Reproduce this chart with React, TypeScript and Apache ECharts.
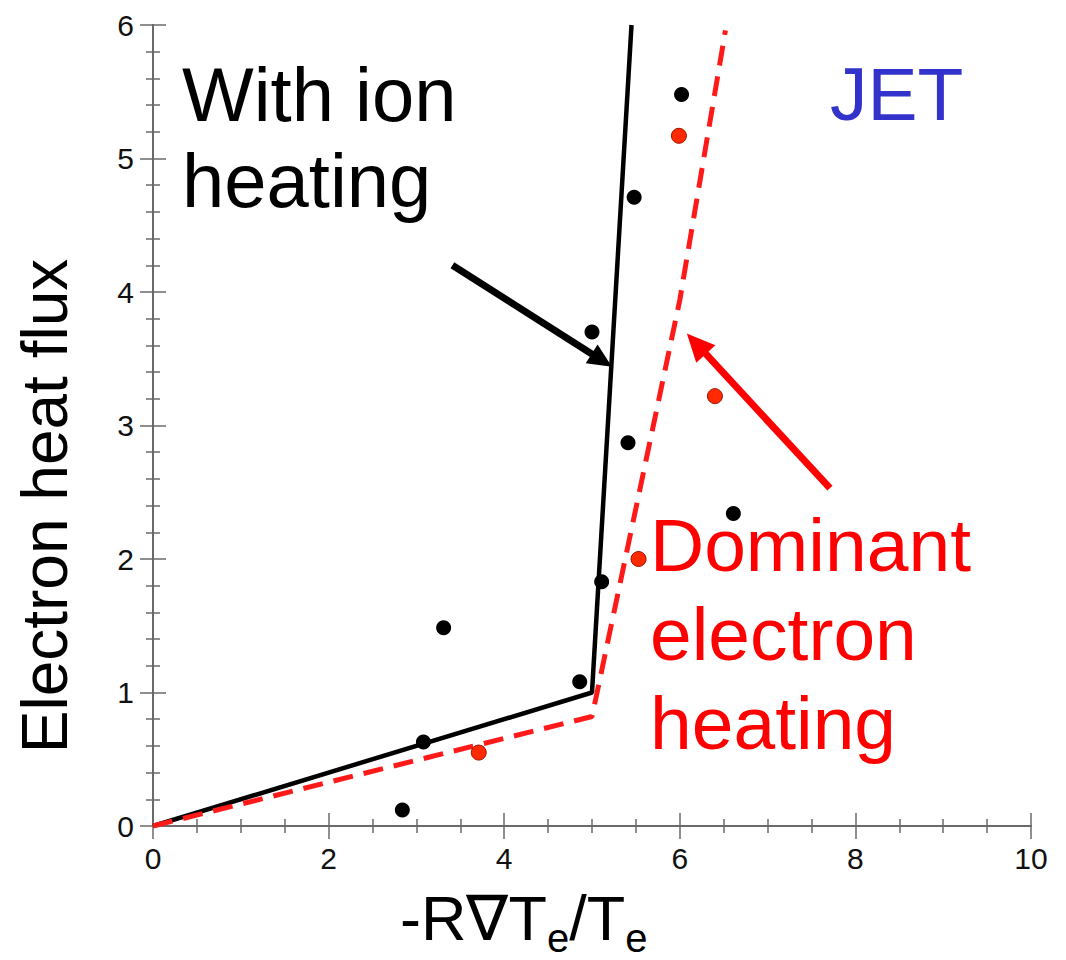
import React, { useEffect, useRef } from 'react';
import * as echarts from 'echarts';

// Measured points (JET)
const ionHeatX = [2.84, 3.08, 3.31, 4.86, 5.0, 5.11, 5.41, 5.48, 6.02, 6.61];
const ionHeatY = [0.12, 0.63, 1.485, 1.08, 3.7, 1.83, 2.87, 4.71, 5.48, 2.34];
const elecHeatX = [3.71, 5.53, 5.99, 6.4];
const elecHeatY = [0.55, 2.0, 5.17, 3.22];

// Fitted model curves
const ionFitX = [0, 5.0, 5.45];
const ionFitY = [0, 1.0, 6.0];
const elecFitX = [0, 5.0, 6.0, 6.52];
const elecFitY = [0, 0.82, 3.94, 5.96];

// Annotation arrows [tail, tip] in data units
const ionArrow = [[3.41, 4.2], [5.227, 3.44]];
const elecArrow = [[7.71, 2.53], [6.08, 3.69]];

const xTickLabels = ['0', '2', '4', '6', '8', '10'];
const yTickLabels = ['0', '1', '2', '3', '4', '5', '6'];

const FONT = '"Liberation Sans", Arial, Helvetica, sans-serif';

const zip = (xs: number[], ys: number[]) => xs.map((x, i) => [x, ys[i]]);

export default function App() {
  const ref = useRef<HTMLDivElement>(null);
  useEffect(() => {
    const chart = echarts.init(ref.current!, null, { renderer: 'svg' });
    const axisLine = { show: true, lineStyle: { color: '#6a6a6a', width: 2 } };
    const tick = { show: true, inside: true, length: 13, lineStyle: { color: '#6a6a6a', width: 1.5 } };
    const minor = (n: number) => ({ show: true, splitNumber: n, length: 7, lineStyle: { color: '#6a6a6a', width: 1.5 } });
    const xBase = { type: 'value', min: 0, max: 10, interval: 2, axisLine, axisTick: tick, minorTick: minor(4), splitLine: { show: false }, minorSplitLine: { show: false } };
    const yBase = { type: 'value', min: 0, max: 6, interval: 1, axisLine, axisTick: tick, minorTick: minor(5), splitLine: { show: false }, minorSplitLine: { show: false } };
    chart.setOption({
      animation: false,
      backgroundColor: '#ffffff',
      grid: { left: 153, right: 35, top: 25, bottom: 134, containLabel: false },
      xAxis: [
        {
          ...xBase,
          position: 'bottom',
          axisLabel: {
            margin: 17, fontSize: 30, color: '#111', fontFamily: FONT,
            formatter: (v: number) => xTickLabels[Math.round(v / 2)] ?? '',
          },
        },
        { ...xBase, position: 'top', axisLabel: { show: false } },
      ],
      yAxis: [
        {
          ...yBase,
          position: 'left',
          axisLabel: {
            margin: 19, fontSize: 30, color: '#111', fontFamily: FONT,
            formatter: (v: number) => yTickLabels[Math.round(v)] ?? '',
          },
        },
        { ...yBase, position: 'right', axisLabel: { show: false } },
      ],
      series: [
        {
          type: 'line', name: 'ion fit', data: zip(ionFitX, ionFitY), showSymbol: false, symbol: 'none',
          lineStyle: { color: '#000', width: 4.5 }, z: 2, clip: true,
        },
        {
          type: 'line', name: 'electron fit', data: zip(elecFitX, elecFitY), showSymbol: false, symbol: 'none',
          lineStyle: { color: '#ff1a1a', width: 5, type: [20, 11] }, z: 2, clip: true,
        },
        {
          type: 'scatter', name: 'ion heating', data: zip(ionHeatX, ionHeatY), symbol: 'circle', symbolSize: 15,
          itemStyle: { color: '#000', opacity: 1 }, z: 3,
        },
        {
          type: 'scatter', name: 'electron heating', data: zip(elecHeatX, elecHeatY), symbol: 'circle', symbolSize: 15,
          itemStyle: { color: '#ff2a00', borderColor: '#a01000', borderWidth: 1, opacity: 1 }, z: 3,
        },
      ],
    });

    const arrow = (pts: number[][], color: string, width: number, headLen: number, headW: number) => {
      const p0 = chart.convertToPixel({ gridIndex: 0 }, pts[0]) as number[];
      const p1 = chart.convertToPixel({ gridIndex: 0 }, pts[1]) as number[];
      const dx = p1[0] - p0[0];
      const dy = p1[1] - p0[1];
      const L = Math.hypot(dx, dy);
      const ux = dx / L;
      const uy = dy / L;
      const bx = p1[0] - ux * headLen;
      const by = p1[1] - uy * headLen;
      const nx = -uy;
      const ny = ux;
      return [
        { type: 'line', z: 50, shape: { x1: p0[0], y1: p0[1], x2: bx + ux * 3, y2: by + uy * 3 }, style: { stroke: color, lineWidth: width } },
        {
          type: 'polygon', z: 50,
          shape: { points: [[p1[0], p1[1]], [bx + (nx * headW) / 2, by + (ny * headW) / 2], [bx - (nx * headW) / 2, by - (ny * headW) / 2]] },
          style: { fill: color },
        },
      ];
    };

    chart.setOption({
      graphic: [
        {
          type: 'text', left: 182, top: 51, z: 60,
          style: { text: 'With ion\nheating', fill: '#000', fontSize: 76, lineHeight: 86, fontFamily: FONT },
        },
        {
          type: 'text', left: 650, top: 500, z: 60,
          style: { text: 'Dominant\nelectron\nheating', fill: '#ff0000', fontSize: 75, lineHeight: 89, fontFamily: FONT },
        },
        {
          type: 'text', left: 830, top: 51, z: 60,
          style: { text: 'JET', fill: '#3333cc', fontSize: 75, lineHeight: 86, fontFamily: FONT },
        },
        {
          type: 'text', x: 45, y: 506, rotation: Math.PI / 2, z: 60,
          style: { text: 'Electron heat flux', fill: '#000', fontSize: 64, fontFamily: FONT, align: 'center', verticalAlign: 'middle' },
        },
        {
          type: 'text', x: 400, y: 918, z: 60,
          style: {
            text: '{a|-R\u2207T}{b|e}{a|/T}{b|e}',
            align: 'left', verticalAlign: 'middle', fontFamily: FONT,
            rich: {
              a: { fontSize: 63, fill: '#000', fontFamily: FONT },
              b: { fontSize: 40, fill: '#000', fontFamily: FONT, padding: [40, 0, 0, 0] },
            },
          },
        },
        ...arrow(ionArrow, '#000', 7, 24, 22),
        ...arrow(elecArrow, '#ff0000', 7, 28, 26),
      ],
    });
    return () => chart.dispose();
  }, []);
  return <div ref={ref} style={{ position: 'fixed', left: 0, top: 0, width: 1066, height: 960 }} />;
}
